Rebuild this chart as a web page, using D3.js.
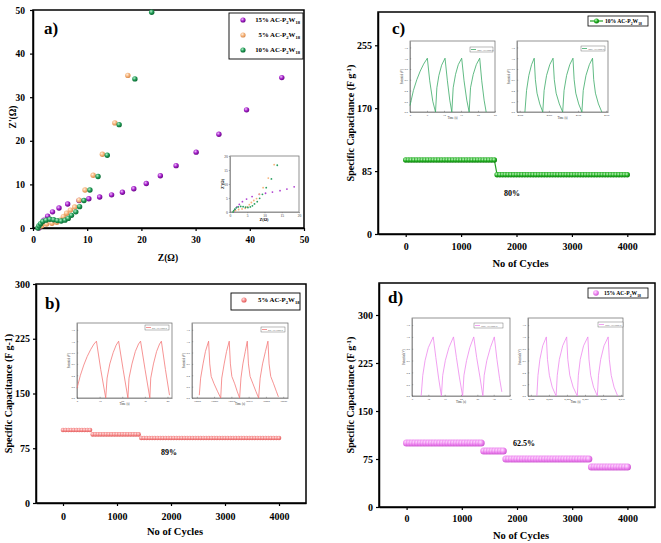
<!DOCTYPE html>
<html><head><meta charset="utf-8">
<script src="https://cdn.jsdelivr.net/npm/d3@7"></script>
<style>body{margin:0;background:#fff}svg{display:block}text{font-family:"Liberation Serif","Times New Roman",serif;}</style>
</head><body><svg id="c" width="661" height="543"></svg>
<script>
// ---------- DATA ----------
// panel a: Nyquist (Z, Z')
const eis15 = [[1.1,0],[1.5,0.8],[2.0,1.8],[2.7,2.7],[3.6,3.7],[4.8,4.6],[6.4,5.5],[8.5,6.3],[10.3,6.7],[12.3,7.1],[14.5,7.6],[16.5,8.2],[18.6,9.0],[20.9,10.2],[23.5,12.0],[26.4,14.3],[30.1,17.4],[34.3,21.5],[39.4,27.1],[45.9,34.5]];
const eis5 = [[1.0,0.1],[1.6,0.5],[2.5,0.9],[3.5,1.1],[4.4,1.3],[5.0,1.8],[5.6,2.6],[6.2,3.4],[6.9,4.1],[7.7,4.8],[8.5,6.4],[9.6,8.7],[11.1,12.1],[12.8,16.9],[15.1,24.1],[17.5,35.0]];
const eis10 = [[0.9,0],[1.1,0.5],[1.4,1.0],[1.8,1.5],[2.4,1.8],[3.1,2.0],[3.8,1.9],[4.5,1.7],[5.2,1.6],[5.9,1.8],[6.5,2.2],[7.1,2.9],[7.9,3.7],[8.6,4.9],[9.4,6.3],[10.5,8.7],[12.0,11.8],[13.7,16.7],[15.9,23.7],[18.8,34.2],[21.9,49.5]];
const eisTicks = [0,10,20,30,40,50];
const eisInsetTicks = [0,5,10,15,20];

// cycling stability: [startCycle, endCycle, capacitance F/g], measured every 50 cycles
const cycleInterval = 50;
const cycleTicks = [0,1000,2000,3000,4000];
const stepsB = [[0,500,100],[550,1400,94],[1450,4000,89]];
const stepsC = [[0,1600,100],[1650,4000,80]];
const stepsD = [[0,1350,100],[1400,1750,87.5],[1800,3300,75],[3350,4000,62.5]];
const yTicksB = [0,75,150,225,300];
const yTicksC = [0,85,170,255];
const yTicksD = [0,75,150,225,300];

// GCD insets: [time, potential]
const gcdC1 = [[0,0.12],[1,0.4],[2,0.6],[3,0.76],[4,0.89],[5.1,1.0],[5.8,0.58],[6.7,0.2],[7.5,0.0],[7.9,0.45],[8.5,0.68],[9.3,0.87],[10.3,1.0],[11,0.58],[11.7,0.22],[12.3,0.0],[12.7,0.45],[13.4,0.7],[14.2,0.88],[15.2,1.0],[15.9,0.58],[16.7,0.22],[17.4,0.0],[17.8,0.45],[18.6,0.7],[19.5,0.88],[20.5,1.0],[21.1,0.58],[21.8,0.22],[22.4,0.0]];
const gcdC2 = [[8.7,0],[10.5,0.4],[13,0.68],[16,0.88],[18.9,1.0],[20.2,0.6],[22,0.35],[25,0.15],[28.3,0],[29.8,0.4],[32.5,0.68],[36,0.88],[39.6,1.0],[41,0.6],[43,0.35],[46.5,0.15],[50.2,0],[51.7,0.4],[54.5,0.68],[58,0.88],[61.5,1.0],[62.8,0.6],[64.6,0.35],[67.8,0.15],[71.3,0],[72.8,0.4],[75.8,0.68],[79.5,0.88],[83,1.0],[84.3,0.6],[86.2,0.35],[89.5,0.15],[93.2,0]];
const gcdB1 = [[0,0.17],[1.5,0.4],[3,0.58],[4.5,0.73],[6,0.85],[7.5,0.95],[8.6,1.0],[10.5,0.5],[12.7,0.0],[13.3,0.35],[14.5,0.6],[16,0.8],[17.3,0.93],[18.4,1.0],[20.4,0.5],[22.5,0.0],[23,0.35],[24.3,0.6],[25.8,0.82],[27.2,0.95],[28.1,1.0],[30.1,0.5],[32.2,0.0],[32.6,0.35],[33.8,0.6],[35.2,0.82],[36.5,0.95],[37.3,1.0],[39.1,0.5],[40.9,0.05]];
const gcdB2 = [[7.6,0.05],[9,0.35],[11.5,0.6],[14,0.82],[17.3,1.0],[18.5,0.6],[20,0.38],[23,0.25],[26.5,0.12],[29.9,0],[31,0.35],[33.5,0.6],[36,0.82],[38.8,1.0],[40,0.6],[41.5,0.38],[44.5,0.25],[47,0.12],[49.6,0],[51,0.35],[53,0.6],[55.5,0.82],[57.6,1.0],[58.8,0.6],[60.5,0.38],[63.5,0.25],[66.5,0.12],[69.4,0],[71,0.35],[73.5,0.6],[76.5,0.82],[79.1,1.0],[80.3,0.6],[82,0.38],[85,0.25],[87.8,0.12],[90,0.02]];
const gcdD1 = [[7.8,0],[8.3,0.35],[9,0.6],[10,0.82],[11.5,1.0],[12.3,0.65],[13.1,0.32],[14,0],[14.4,0.35],[15.2,0.6],[16.3,0.82],[17.7,1.0],[18.6,0.65],[19.5,0.32],[20.5,0],[20.9,0.35],[21.7,0.6],[22.7,0.82],[23.9,1.0],[24.8,0.65],[25.8,0.32],[26.7,0],[27.1,0.35],[27.9,0.6],[29,0.82],[30.2,1.0],[31,0.62],[31.8,0.3],[32.5,0.07]];
const gcdD2 = [[9.3,0],[10.5,0.35],[12.5,0.62],[15.5,0.85],[19.3,1.0],[20.5,0.62],[22.5,0.35],[25.5,0.15],[29.6,0],[30.8,0.35],[33,0.62],[36.5,0.85],[40.7,1.0],[41.9,0.62],[44,0.35],[47.5,0.15],[51.9,0],[53,0.35],[55,0.62],[58.5,0.85],[63,1.0],[64.2,0.62],[66,0.35],[69,0.15],[73,0],[74.2,0.35],[76.5,0.62],[80,0.85],[84.4,1.0],[85.6,0.62],[87.6,0.35],[90.6,0.15],[94.4,0]];
const gcdYTicks = [0,0.2,0.4,0.6,0.8,1.0,1.2];
const c1Ticks = [0,5,10,15,20,25];
const b1Ticks = [0,10,20,30,40];
const d1Ticks = [5,10,15,20,25,30,35];
const c2Ticks = [[3,"4980"],[35,"4985"],[67,"4990"],[98,"4995"]];
const b2Ticks = [[5,"10000"],[23,"10005"],[41,"10010"],[59,"10015"],[77,"10020"],[95,"10025"]];
const d2Ticks = [[3,"4,000"],[22,"4,002"],[41,"4,004"],[60,"4,006"],[79,"4,008"],[98,"4,010"]];

// ---------- DRAW ----------
const svg = d3.select('#c');
const defs = svg.append('defs');
function grad(id, c0, c1, c2){
  const g = defs.append('radialGradient').attr('id',id).attr('cx','0.38').attr('cy','0.35').attr('r','0.65');
  g.append('stop').attr('offset','0').attr('stop-color',c0);
  g.append('stop').attr('offset','0.55').attr('stop-color',c1);
  g.append('stop').attr('offset','1').attr('stop-color',c2);
}
grad('gPur','#f0c0ff','#a41fc8','#6a0a88');
grad('gOra','#fff0dc','#f5b27a','#d98c4e');
grad('gGrn','#b8f0cc','#1f9a55','#0c6a33');
grad('gRed','#ffe0e0','#f58a8a','#e05a5a');
grad('gCyc','#c8f5c8','#22b022','#0f7d0f');
grad('gVio','#ffe0ff','#ee88f0','#cc55d0');

function styleAxis(sel, fs){
  sel.selectAll('text').attr('font-size',fs).attr('font-weight','bold').attr('fill','#000')
     .attr('font-family','"Liberation Serif",serif');
  sel.selectAll('path').attr('stroke','#000').attr('stroke-width',1.5);
  sel.selectAll('line').attr('stroke','#000').attr('stroke-width',1.2);
}
function frame(x0,y0,x1,y1,col,w){
  svg.append('rect').attr('x',x0).attr('y',y0).attr('width',x1-x0).attr('height',y1-y0)
    .attr('fill','none').attr('stroke',col).attr('stroke-width',w);
}
function chem(t, pct, fs){
  t.append('tspan').text(pct+' AC-P');
  t.append('tspan').attr('font-size',fs*0.68).attr('dy',fs*0.3).text('2');
  t.append('tspan').attr('font-size',fs).attr('dy',-fs*0.3).text('W');
  t.append('tspan').attr('font-size',fs*0.68).attr('dy',fs*0.3).text('18');
}
function btext(x,y,s,fs,anchor){
  return svg.append('text').attr('x',x).attr('y',y).attr('font-size',fs).attr('font-weight','bold')
    .attr('text-anchor',anchor||'start').text(s);
}

// ===== Panel a =====
{
  const x = d3.scaleLinear([0,50],[33,304]);
  const y = d3.scaleLinear([0,50],[228,10]);
  const gx = svg.append('g').attr('transform','translate(0,228)')
    .call(d3.axisBottom(x).tickValues(eisTicks).tickSize(3).tickPadding(5).tickSizeOuter(0));
  styleAxis(gx,9.5);
  const gy = svg.append('g').attr('transform','translate(33,0)')
    .call(d3.axisLeft(y).tickValues(eisTicks).tickSize(3).tickPadding(5).tickSizeOuter(0));
  styleAxis(gy,9.5);
  frame(33,10,304,228,'#000',1.5);
  const series = [[eis15,'gPur'],[eis5,'gOra'],[eis10,'gGrn']];
  series.forEach(([d,gid])=>{
    svg.append('g').selectAll('circle').data(d).join('circle')
      .attr('cx',p=>x(p[0])).attr('cy',p=>y(p[1])).attr('r',2.7).attr('fill',`url(#${gid})`);
  });
  btext(168,261,'Z(Ω)',9.5,'middle');
  btext(0,0,"Z'(Ω)",9.5,'middle').attr('transform','translate(16,117) rotate(-90)');
  btext(44,34,'a)',17);
  // legend
  svg.append('rect').attr('x',229).attr('y',13).attr('width',74).attr('height',46).attr('fill','#fff').attr('stroke','#000').attr('stroke-width',0.9);
  [['15%','gPur',20],['5%','gOra',35],['10%','gGrn',50]].forEach(([p,gid,yy])=>{
    svg.append('circle').attr('cx',243).attr('cy',yy).attr('r',2.6).attr('fill',`url(#${gid})`);
    const t = btext(300,yy+2,'',6.8,'end'); chem(t,p,6.8);
  });
  // inset
  const xi = d3.scaleLinear([0,20],[230,299]);
  const yi = d3.scaleLinear([0,20],[212,156]);
  svg.append('rect').attr('x',230).attr('y',156).attr('width',69).attr('height',56).attr('fill','#fff');
  const ix = svg.append('g').attr('transform','translate(0,212)')
    .call(d3.axisBottom(xi).tickValues(eisInsetTicks).tickSize(1.2).tickPadding(1).tickSizeOuter(0));
  const iy = svg.append('g').attr('transform','translate(230,0)')
    .call(d3.axisLeft(yi).tickValues(eisInsetTicks).tickSize(1.2).tickPadding(1).tickSizeOuter(0));
  [ix,iy].forEach(s=>{s.selectAll('text').attr('font-size',3.6).attr('fill','#333').attr('font-family','"Liberation Serif",serif');
    s.selectAll('path,line').attr('stroke','#777').attr('stroke-width',0.6);});
  frame(230,156,299,212,'#777',0.8);
  [[eis15,'#b040d0'],[eis5,'#f5b27a'],[eis10,'#2aa060']].forEach(([d,c])=>{
    svg.append('g').selectAll('circle').data(d.filter(p=>p[0]<=20&&p[1]<=20)).join('circle')
      .attr('cx',p=>xi(p[0])).attr('cy',p=>yi(p[1])).attr('r',0.9).attr('fill',c);
  });
  svg.append('text').attr('x',264).attr('y',221).attr('font-size',4.2).attr('font-weight','bold').attr('text-anchor','middle').text('Z(Ω)');
  svg.append('text').attr('transform','translate(224,184) rotate(-90)').attr('font-size',4.2).attr('font-weight','bold').attr('text-anchor','middle').text("Z'(Ω)");
}

// ===== GCD inset helper =====
function inset(b, xDom, ticks, data, color, lg, label){
  const x = d3.scaleLinear(xDom,[b[0],b[2]]);
  const y = d3.scaleLinear([0,1.32],[b[3],b[1]]);
  svg.append('rect').attr('x',b[0]).attr('y',b[1]).attr('width',b[2]-b[0]).attr('height',b[3]-b[1]).attr('fill','#fff');
  const tv = ticks.map(t=>Array.isArray(t)?t[0]:t);
  const tl = ticks.map(t=>Array.isArray(t)?t[1]:String(t));
  const gx = svg.append('g').attr('transform',`translate(0,${b[3]})`)
    .call(d3.axisBottom(x).tickValues(tv).tickFormat((d,i)=>tl[i]).tickSize(-1.2).tickPadding(2).tickSizeOuter(0));
  const gy = svg.append('g').attr('transform',`translate(${b[0]},0)`)
    .call(d3.axisLeft(y).tickValues(gcdYTicks).tickFormat(d3.format('.1f')).tickSize(-1.2).tickPadding(2).tickSizeOuter(0));
  [gx,gy].forEach(s=>{s.selectAll('text').attr('font-size',2.8).attr('fill','#444').attr('font-family','"Liberation Sans",sans-serif');
    s.selectAll('path,line').attr('stroke','#666').attr('stroke-width',0.5);});
  frame(b[0],b[1],b[2],b[3],'#666',0.7);
  svg.append('path').datum(data).attr('fill','none').attr('stroke',color).attr('stroke-width',0.8)
    .attr('d',d3.line().x(p=>x(p[0])).y(p=>y(p[1])));
  svg.append('text').attr('x',(b[0]+b[2])/2).attr('y',b[3]+7).attr('font-size',3).attr('text-anchor','middle').attr('fill','#333').attr('font-family','"Liberation Sans",sans-serif').text('Time (s)');
  svg.append('text').attr('transform',`translate(${b[0]-7},${(b[1]+b[3])/2}) rotate(-90)`).attr('font-size',3).attr('text-anchor','middle').attr('fill','#333').attr('font-family','"Liberation Sans",sans-serif').text('Potential (V)');
  // legend
  svg.append('rect').attr('x',lg[0]).attr('y',lg[1]).attr('width',lg[2]).attr('height',5).attr('fill','#fff').attr('stroke','#555').attr('stroke-width',0.4);
  svg.append('line').attr('x1',lg[0]+1).attr('x2',lg[0]+6).attr('y1',lg[1]+2.5).attr('y2',lg[1]+2.5).attr('stroke',color).attr('stroke-width',0.8);
  const t = svg.append('text').attr('x',lg[0]+7).attr('y',lg[1]+3.5).attr('font-size',2.6).attr('fill','#333').attr('font-family','"Liberation Sans",sans-serif');
  chem(t,label,2.6);
}

// ===== Cycling panel helper =====
function cyc(o){
  const x = d3.scaleLinear([-500,4500],[o.x0,o.x1]);
  const y = d3.scaleLinear(o.yDom,[o.y1,o.y0]);
  const gx = svg.append('g').attr('transform',`translate(0,${o.y1})`)
    .call(d3.axisBottom(x).tickValues(cycleTicks).tickFormat(d3.format('d')).tickSize(3).tickPadding(o.xp).tickSizeOuter(0));
  styleAxis(gx,10);
  const gy = svg.append('g').attr('transform',`translate(${o.x0},0)`)
    .call(d3.axisLeft(y).tickValues(o.yTicks).tickFormat(d3.format('d')).tickSize(3).tickPadding(3).tickSizeOuter(0));
  styleAxis(gy,10);
  frame(o.x0,o.y0,o.x1,o.y1,'#000',1.5);
  const pts = [];
  o.steps.forEach(([s,e,v])=>d3.range(s,e+1,cycleInterval).forEach(c=>pts.push([c,v])));
  if(o.line){
    svg.append('path').datum(pts).attr('fill','none').attr('stroke',o.lineColor).attr('stroke-width',1.2)
      .attr('d',d3.line().x(p=>x(p[0])).y(p=>y(p[1])));
  }
  svg.append('g').selectAll('circle').data(pts).join('circle')
    .attr('cx',p=>x(p[0])).attr('cy',p=>y(p[1])).attr('r',o.r).attr('fill',`url(#${o.gid})`);
  btext((o.x0+o.x1)/2+4, o.titleY, 'No of Cycles', 10.5, 'middle');
  const t = btext(0,0,'Specific Capacitance (F g',10,'middle')
    .attr('transform',`translate(${o.ytX},${(o.y0+o.y1)/2}) rotate(-90)`);
  if(o.sup){ t.append('tspan').attr('dy',-3.5).attr('font-size',7).text('-1'); t.append('tspan').attr('dy',3.5).text(')'); }
  else t.text('Specific Capacitance (F g-1)');
  btext(o.lab[0],o.lab[1],o.lab[2],17);
  btext(o.pct[0],o.pct[1],o.pct[2],8,'middle');
  return {x,y};
}

// ===== Panel b =====
cyc({x0:36,x1:306,y0:284,y1:503,yDom:[0,300],yTicks:yTicksB,steps:stepsB,gid:'gRed',r:2.3,xp:7,
     titleY:535,ytX:12,sup:false,lab:[45,309,'b)'],pct:[169,455,'89%']});
svg.append('rect').attr('x',231).attr('y',293).attr('width',69).attr('height',17).attr('fill','#fff').attr('stroke','#000').attr('stroke-width',0.9);
svg.append('circle').attr('cx',244).attr('cy',300).attr('r',2.6).attr('fill','url(#gRed)');
{ const t = btext(258,302,'',6.8); chem(t,'5%',6.8); }
inset([77,323,172,398],[0,42],b1Ticks,gcdB1,'#f47878',[145,325,24],'5%');
inset([192,323,288,398],[0,100],b2Ticks,gcdB2,'#f47878',[261,327,24],'5%');

// ===== Panel c =====
cyc({x0:378,x1:655,y0:12,y1:234,yDom:[0,300],yTicks:yTicksC,steps:stepsC,gid:'gCyc',r:2.7,xp:6,line:true,lineColor:'#22a022',
     titleY:267,ytX:354,sup:true,lab:[392,34,'c)'],pct:[512,196,'80%']});
svg.append('rect').attr('x',588).attr('y',16).attr('width',60).attr('height',10).attr('fill','#fff').attr('stroke','#000').attr('stroke-width',0.8);
svg.append('line').attr('x1',590).attr('x2',603).attr('y1',21).attr('y2',21).attr('stroke','#22a022').attr('stroke-width',1.2);
svg.append('circle').attr('cx',596.5).attr('cy',21).attr('r',2.5).attr('fill','url(#gCyc)');
{ const t = btext(605,23,'',5.6); chem(t,'10%',5.6); }
inset([410,41,495,112],[0,25],c1Ticks,gcdC1,'#3aaa66',[470,47,23],'10%');
inset([517,41,608,112],[0,100],c2Ticks,gcdC2,'#3aaa66',[581,46,24],'10%');

// ===== Panel d =====
cyc({x0:379,x1:655,y0:283,y1:507,yDom:[0,350],yTicks:yTicksD,steps:stepsD,gid:'gVio',r:3.6,xp:4.5,
     titleY:539,ytX:354,sup:true,lab:[388,303,'d)'],pct:[524,446,'62.5%']});
svg.append('rect').attr('x',588).attr('y',288).attr('width',60).attr('height',10).attr('fill','#fff').attr('stroke','#000').attr('stroke-width',0.8);
svg.append('circle').attr('cx',596).attr('cy',293).attr('r',2.8).attr('fill','url(#gVio)');
{ const t = btext(604,295,'',5.6); chem(t,'15%',5.6); }
inset([412,318,510,396],[5,35],d1Ticks,gcdD1,'#ee88ee',[474,323,29],'15%');
inset([528,318,623,396],[0,100],d2Ticks,gcdD2,'#ee88ee',[598,322,25],'15%');
</script></body></html>
